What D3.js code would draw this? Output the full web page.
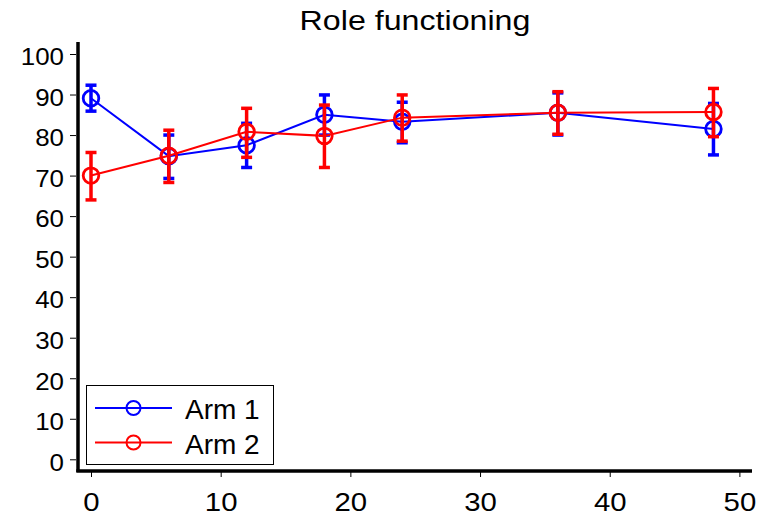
<!DOCTYPE html>
<html><head><meta charset="utf-8">
<script src="https://d3js.org/d3.v7.min.js"></script>
<style>html,body{margin:0;padding:0;background:#fff;}svg{display:block;font-family:Arial,"Liberation Sans",sans-serif;}</style>
</head><body><div id="chart"></div>
<script>
const title = "Role functioning";
const months = [0, 6, 12, 18, 24, 36, 48];
const seriesNames = ["Arm 1", "Arm 2"];
const seriesColors = ["#0000ff", "#ff0000"];
const arm1Mean = [89.1, 74.8, 77.5, 85.0, 83.3, 85.5, 81.5];
const arm1Lower = [85.9, 69.3, 72.0, 80.0, 78.1, 80.0, 75.1];
const arm1Upper = [92.3, 80.0, 82.9, 89.9, 88.1, 90.4, 87.8];
const arm2Mean = [70.0, 74.9, 80.8, 79.8, 84.3, 85.5, 85.7];
const arm2Lower = [64.0, 68.3, 74.5, 72.0, 78.5, 80.2, 79.6];
const arm2Upper = [75.7, 81.2, 86.6, 87.4, 89.9, 90.7, 91.5];
const xTicks = [0, 10, 20, 30, 40, 50];
const yTicks = [0, 10, 20, 30, 40, 50, 60, 70, 80, 90, 100];

const W = 771, H = 515;
const FF = "Arial, 'Liberation Sans', sans-serif";
const svg = d3.select("#chart").append("svg").attr("width", W).attr("height", H);

const x = d3.scaleLinear().domain([0, 50]).range([91, 739.4]);
const y = d3.scaleLinear().domain([0, 100]).range([459.3, 54]);

const series = [
  {name: seriesNames[0], color: seriesColors[0], mean: arm1Mean, lo: arm1Lower, hi: arm1Upper},
  {name: seriesNames[1], color: seriesColors[1], mean: arm2Mean, lo: arm2Lower, hi: arm2Upper}
];

// title
svg.append("text").attr("x", 0).attr("y", 0).attr("text-anchor", "middle")
  .attr("transform", "translate(415,30) scale(1.15,1)")
  .attr("font-size", 28).attr("font-family", FF).attr("fill", "#000").text(title);

// y axis
const yAxis = svg.append("g").attr("transform", "translate(76,0)")
  .call(d3.axisLeft(y).tickValues(yTicks).tickSize(6).tickPadding(0));
yAxis.select(".domain").remove();
yAxis.selectAll(".tick line").attr("stroke", "#000").attr("stroke-width", 1);
yAxis.selectAll(".tick text").attr("x", 0).attr("font-size", 24).attr("font-family", FF)
  .attr("fill", "#000").attr("dy", "0.45em")
  .attr("transform", "translate(-12,0) scale(1.08,1)");

// x axis
const xAxis = svg.append("g").attr("transform", "translate(0,472)")
  .call(d3.axisBottom(x).tickValues(xTicks).tickSize(5).tickPadding(0));
xAxis.select(".domain").remove();
xAxis.selectAll(".tick line").attr("stroke", "#000").attr("stroke-width", 1);
xAxis.selectAll(".tick text").attr("y", 0).attr("dy", 0).attr("font-size", 26).attr("font-family", FF)
  .attr("fill", "#000").attr("transform", "translate(0,38.5) scale(1.13,1)");

// axis lines
svg.append("line").attr("x1", 78).attr("x2", 78).attr("y1", 42).attr("y2", 472)
  .attr("stroke", "#000").attr("stroke-width", 3.5);
svg.append("line").attr("x1", 76.3).attr("x2", 752).attr("y1", 471).attr("y2", 471)
  .attr("stroke", "#000").attr("stroke-width", 3.5);

const line = d3.line().x((d, i) => x(months[i])).y(d => y(d));

series.forEach(s => {
  const g = svg.append("g");
  g.append("path").datum(s.mean).attr("d", line).attr("fill", "none")
    .attr("stroke", s.color).attr("stroke-width", 2);
  months.forEach((m, i) => {
    const cx = x(m);
    g.append("line").attr("x1", cx).attr("x2", cx).attr("y1", y(s.lo[i])).attr("y2", y(s.hi[i]))
      .attr("stroke", s.color).attr("stroke-width", 3.5);
    [s.lo[i], s.hi[i]].forEach(v => {
      g.append("line").attr("x1", cx - 5.5).attr("x2", cx + 5.5).attr("y1", y(v)).attr("y2", y(v))
        .attr("stroke", s.color).attr("stroke-width", 3.5);
    });
    g.append("circle").attr("cx", cx).attr("cy", y(s.mean[i])).attr("r", 7.8)
      .attr("fill", "none").attr("stroke", s.color).attr("stroke-width", 2.8);
  });
});

// legend
const lg = svg.append("g");
lg.append("rect").attr("x", 86.5).attr("y", 385.5).attr("width", 187).attr("height", 79)
  .attr("fill", "#fff").attr("stroke", "#000").attr("stroke-width", 1);
series.forEach((s, i) => {
  const ly = 408 + i * 34.5;
  lg.append("line").attr("x1", 95).attr("x2", 172).attr("y1", ly).attr("y2", ly)
    .attr("stroke", s.color).attr("stroke-width", 2);
  lg.append("circle").attr("cx", 133.5).attr("cy", ly).attr("r", 7)
    .attr("fill", "none").attr("stroke", s.color).attr("stroke-width", 2);
  lg.append("text").attr("x", 185).attr("y", ly + 11)
    .attr("font-size", 28).attr("font-family", FF).attr("fill", "#000").text(s.name);
});
</script></body></html>
